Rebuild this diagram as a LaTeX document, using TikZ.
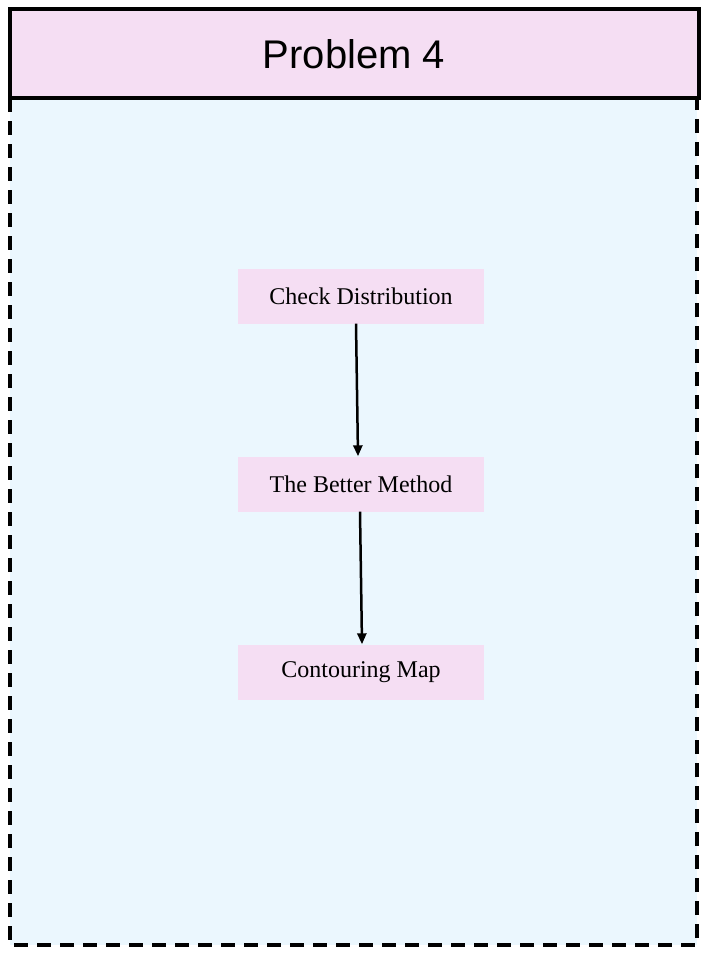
\documentclass[tikz,border=0pt]{standalone}
\usepackage{fontspec}
\setmainfont{Liberation Serif}
\newfontfamily\titlefont{Liberation Sans}
\usetikzlibrary{arrows.meta}

\definecolor{titlepink}{HTML}{F5DEF3}
\definecolor{panelblue}{HTML}{EBF7FE}
\definecolor{steppink}{HTML}{F5DEF3}

\tikzset{
  stepbox/.style={fill=steppink, minimum width=246pt, minimum height=55pt,
    inner sep=0pt, font=\fontsize{24}{28}\selectfont},
  flow/.style={-{Triangle[length=11pt,width=9pt]}, line width=2.5pt}
}

\begin{document}
\begin{tikzpicture}[x=1pt,y=-1pt]

    % page size
    \useasboundingbox (0,0) rectangle (716,962);

    % dashed panel below the title
    \fill [panelblue] (10,98) rectangle (697,945);
    \draw [line width=4pt, dash pattern=on 14pt off 9pt] (10,98) -- (10,945) -- (697,945) -- (697,98);

    % title bar
    \draw [fill=titlepink, line width=4pt] (10,9) rectangle (699,98);
    \node [font=\titlefont\fontsize{40}{46}\selectfont] (title) at (354,54) {Problem 4};

    % steps
    \foreach \name/\y/\txt in {check/296/Check Distribution, better/484/The Better Method, contour/672/Contouring Map}{
      \node [stepbox] (\name) at (361,\y) {\txt};
    }

    % arrows between the steps
    \draw [flow] ([xshift=-5pt]check.south) -- ([xshift=-3pt]better.north);
    \draw [flow] ([xshift=-1pt]better.south) -- ([xshift=1pt]contour.north);

\end{tikzpicture}
\end{document}
